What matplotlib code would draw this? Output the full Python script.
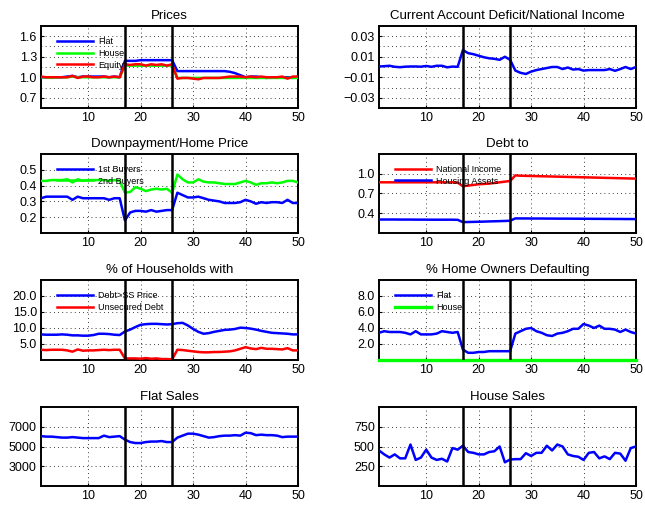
import numpy as np
import matplotlib
matplotlib.use("Agg")
import matplotlib.pyplot as plt
from matplotlib.ticker import FixedLocator

BLUE, GREEN, RED = "#0000ff", "#00ff00", "#ff0000"

plt.rcParams.update({
    "font.family": ["Liberation Sans", "DejaVu Sans"],
    "font.size": 9,
    "axes.linewidth": 1.4,
    "xtick.direction": "in", "ytick.direction": "in",
    "xtick.major.size": 2.5, "ytick.major.size": 2.5,
    "xtick.minor.size": 0, "ytick.minor.size": 0,
})

periods = np.arange(1, 51)
breaks = [17, 26]

prices_flat = [1.00, 1.00, 1.00, 1.00, 1.00, 1.01, 1.02, 1.00, 1.01, 1.01, 1.01, 1.01, 1.01, 1.00, 1.01, 1.00,
               1.24, 1.24, 1.24, 1.25, 1.25, 1.25, 1.25, 1.25, 1.25, 1.25,
               1.09, 1.09, 1.09, 1.09, 1.09, 1.09, 1.09, 1.09, 1.09, 1.09, 1.08, 1.06, 1.03, 1.00,
               1.01, 1.01, 1.00, 0.99, 1.00, 1.00, 1.00, 1.00, 0.99, 1.01]
prices_house = [1.00, 1.00, 0.99, 1.00, 1.00, 1.00, 1.01, 1.00, 1.00, 1.00, 1.00, 1.00, 1.00, 1.00, 1.00, 1.00,
                1.17, 1.17, 1.17, 1.17, 1.17, 1.17, 1.17, 1.17, 1.17, 1.17,
                0.99, 0.99, 0.99, 0.99, 0.99, 0.99, 0.99, 0.99, 0.99, 0.99, 0.99, 0.99, 0.99, 0.99,
                0.99, 0.99, 0.99, 0.99, 0.99, 0.99, 0.99, 0.99, 0.99, 0.99]
prices_equity = [1.01, 1.00, 1.00, 1.00, 1.00, 1.00, 1.02, 0.99, 1.01, 1.01, 1.00, 1.00, 1.01, 1.00, 1.01, 1.00,
                 1.19, 1.18, 1.19, 1.19, 1.17, 1.19, 1.18, 1.19, 1.17, 1.19,
                 0.98, 0.99, 0.99, 0.98, 0.97, 0.99, 0.99, 0.99, 0.99, 1.00, 1.01, 1.01, 1.01, 1.00,
                 1.01, 1.00, 1.01, 1.00, 1.00, 1.00, 1.01, 0.98, 1.01, 1.01]

ca_deficit = [0.0005, 0.0008, 0.0012, 0.0002, -0.0002, 0.0003, 0.0005, 0.0005, 0.0003, 0.0010, 0.0002, 0.0012,
              0.0012, -0.0003, 0.0004, 0.0002,
              0.0165, 0.0135, 0.0125, 0.0110, 0.0095, 0.0085, 0.0080, 0.0070, 0.0100, 0.0070,
              -0.0035, -0.0057, -0.0068, -0.0045, -0.0030, -0.0020, -0.0010, 0.0000, 0.0000, -0.0020, -0.0005,
              -0.0025, -0.0020, -0.0035, -0.0030, -0.0030, -0.0030, -0.0030, -0.0020, -0.0037, -0.0020, 0.0000,
              -0.0020, 0.0000]

dp_first = [0.32, 0.33, 0.33, 0.33, 0.33, 0.33, 0.31, 0.33, 0.32, 0.32, 0.32, 0.32, 0.32, 0.31, 0.32, 0.32,
            0.18, 0.23, 0.24, 0.24, 0.235, 0.245, 0.235, 0.24, 0.245, 0.245,
            0.355, 0.34, 0.325, 0.325, 0.33, 0.32, 0.31, 0.305, 0.30, 0.29, 0.29, 0.29, 0.295, 0.31,
            0.30, 0.285, 0.295, 0.29, 0.295, 0.295, 0.29, 0.31, 0.29, 0.29]
dp_second = [0.43, 0.43, 0.435, 0.435, 0.435, 0.44, 0.42, 0.44, 0.43, 0.435, 0.435, 0.435, 0.435, 0.43, 0.435, 0.43,
             0.355, 0.36, 0.39, 0.38, 0.365, 0.375, 0.38, 0.375, 0.38, 0.355,
             0.47, 0.44, 0.42, 0.42, 0.44, 0.425, 0.42, 0.42, 0.415, 0.41, 0.41, 0.41, 0.42, 0.43,
             0.42, 0.405, 0.415, 0.415, 0.42, 0.415, 0.42, 0.43, 0.43, 0.42]

debt_income = [0.87, 0.87, 0.87, 0.87, 0.87, 0.87, 0.87, 0.87, 0.87, 0.87, 0.87, 0.87, 0.87, 0.87, 0.87, 0.865,
               0.81, 0.82, 0.83, 0.84, 0.845, 0.85, 0.86, 0.87, 0.88, 0.89,
               0.975, 0.97, 0.968, 0.966, 0.964, 0.962, 0.96, 0.958, 0.956, 0.954, 0.952, 0.95, 0.948, 0.946,
               0.944, 0.942, 0.94, 0.938, 0.936, 0.934, 0.932, 0.93, 0.928, 0.926]
debt_housing = [0.305, 0.305, 0.305, 0.305, 0.304, 0.304, 0.304, 0.303, 0.303, 0.303, 0.302, 0.302, 0.302, 0.302,
                0.302, 0.30,
                0.265, 0.267, 0.269, 0.271, 0.273, 0.276, 0.278, 0.28, 0.283, 0.286,
                0.322, 0.321, 0.321, 0.32, 0.32, 0.32, 0.319, 0.319, 0.318, 0.318, 0.318, 0.317, 0.317, 0.316,
                0.316, 0.315, 0.315, 0.314, 0.314, 0.313, 0.313, 0.312, 0.312, 0.311]

hh_debt_ss = [8.0, 7.9, 7.9, 7.9, 8.0, 7.9, 7.7, 7.7, 7.6, 7.6, 7.8, 8.2, 8.2, 8.1, 7.9, 7.8,
              8.9, 9.5, 10.3, 11.0, 11.2, 11.3, 11.3, 11.2, 11.1, 11.2,
              11.5, 11.6, 10.8, 9.7, 8.8, 8.2, 8.4, 8.8, 9.1, 9.4, 9.5, 9.7, 10.1, 10.0,
              9.8, 9.5, 9.1, 8.8, 8.5, 8.4, 8.3, 8.2, 8.0, 8.0]
hh_unsecured = [3.2, 3.1, 3.2, 3.2, 3.2, 3.0, 2.6, 3.3, 2.9, 3.0, 3.0, 3.1, 3.2, 3.1, 3.2, 3.2,
                0.5, 0.5, 0.5, 0.4, 0.6, 0.4, 0.5, 0.3, 0.3, 0.2,
                3.2, 3.1, 2.9, 2.7, 2.5, 2.4, 2.4, 2.5, 2.5, 2.6, 2.7, 3.0, 3.5, 4.0,
                3.6, 3.4, 3.8, 3.5, 3.5, 3.4, 3.3, 3.7, 3.0, 3.0]

default_flat = [3.4, 3.6, 3.5, 3.5, 3.5, 3.4, 3.2, 3.6, 3.2, 3.2, 3.2, 3.3, 3.6, 3.5, 3.4, 3.5,
                1.3, 0.9, 0.9, 1.0, 1.0, 1.1, 1.1, 1.1, 1.1, 1.1,
                3.3, 3.6, 3.9, 4.0, 3.6, 3.4, 3.1, 3.0, 3.3, 3.4, 3.6, 3.9, 3.9, 4.5,
                4.3, 4.0, 4.3, 3.9, 3.9, 3.8, 3.5, 3.8, 3.5, 3.3]
default_house = [0.0] * 50

flat_sales = [6050, 6000, 6000, 5950, 5900, 5900, 5950, 5900, 5850, 5850, 5850, 5850, 6100, 5950, 6000, 6050,
              5700, 5450, 5350, 5350, 5450, 5500, 5500, 5550, 5450, 5450,
              5900, 6100, 6300, 6300, 6200, 6050, 5900, 5950, 6050, 6100, 6100, 6150, 6100, 6400,
              6350, 6150, 6200, 6150, 6150, 6100, 5950, 6000, 6000, 6000]
house_sales = [450, 400, 360, 400, 350, 350, 525, 330, 360, 460, 360, 330, 345, 310, 480, 460,
               510, 430, 420, 400, 400, 430, 440, 500, 300, 335,
               340, 340, 415, 380, 420, 420, 510, 450, 525, 500, 400, 380, 370, 330,
               420, 430, 350, 375, 340, 420, 410, 320, 480, 500]

fig = plt.figure(figsize=(6.45, 5.05), dpi=100)
W, H = 645.0, 505.0
cols = [41, 379]
rows = [(26, 108), (154, 233), (280, 360), (407, 486)]


def make_ax(r, c):
    top, bot = rows[r]
    return fig.add_axes([cols[c] / W, 1 - bot / H, 257 / W, (bot - top) / H])


def style(ax, title, ylim, labelled, minor=None):
    ax.set_xlim(1, 50)
    ax.set_ylim(*ylim)
    ax.set_xticks([10, 20, 30, 40, 50])
    ax.set_yticks(labelled)
    if minor is not None:
        ax.yaxis.set_minor_locator(FixedLocator(minor))
    ax.grid(True, which="both", color="black", linestyle=(0, (1, 4)), linewidth=0.6)
    for b in breaks:
        ax.axvline(b, color="black", linewidth=1.8, zorder=4)
    ax.set_title(title, fontsize=9.5, pad=5)
    ax.tick_params(labelsize=9, pad=3)


def leg(ax):
    ax.legend(loc="upper left", bbox_to_anchor=(0.04, 0.93), frameon=False, fontsize=6.5,
              handlelength=4.0, handletextpad=0.6, labelspacing=0.3, borderaxespad=0.2)


lw = 1.8

ax = make_ax(0, 0)
ax.plot(periods, prices_flat, color=BLUE, lw=lw, label="Flat", zorder=3)
ax.plot(periods, prices_house, color=GREEN, lw=lw, label="House", zorder=3)
ax.plot(periods, prices_equity, color=RED, lw=lw, label="Equity", zorder=3)
style(ax, "Prices", (0.55, 1.75), [0.7, 1.0, 1.3, 1.6], [0.85, 1.15, 1.45])
ax.set_yticklabels(["0.7", "1.0", "1.3", "1.6"])
leg(ax)

ax = make_ax(0, 1)
ax.plot(periods, ca_deficit, color=BLUE, lw=lw, zorder=3)
style(ax, "Current Account Deficit/National Income", (-0.04, 0.04),
      [-0.03, -0.01, 0.01, 0.03], [-0.02, 0.0, 0.02])
ax.set_yticklabels(["\u22120.03", "\u22120.01", "0.01", "0.03"])

ax = make_ax(1, 0)
ax.plot(periods, dp_first, color=BLUE, lw=lw, label="1st Buyers", zorder=3)
ax.plot(periods, dp_second, color=GREEN, lw=lw, label="2nd Buyers", zorder=3)
style(ax, "Downpayment/Home Price", (0.1, 0.6), [0.2, 0.3, 0.4, 0.5])
ax.set_yticklabels(["0.2", "0.3", "0.4", "0.5"])
leg(ax)

ax = make_ax(1, 1)
ax.plot(periods, debt_income, color=RED, lw=lw, label="National Income", zorder=3)
ax.plot(periods, debt_housing, color=BLUE, lw=lw, label="Housing Assets", zorder=3)
style(ax, "Debt to", (0.1, 1.3), [0.4, 0.7, 1.0])
ax.set_yticklabels(["0.4", "0.7", "1.0"])
leg(ax)

ax = make_ax(2, 0)
ax.plot(periods, hh_debt_ss, color=BLUE, lw=lw, label="Debt>SS Price", zorder=3)
ax.plot(periods, hh_unsecured, color=RED, lw=lw, label="Unsecured Debt", zorder=3)
style(ax, "% of Households with", (0, 25), [5, 10, 15, 20])
ax.set_yticklabels(["5.0", "10.0", "15.0", "20.0"])
leg(ax)

ax = make_ax(2, 1)
ax.plot(periods, default_flat, color=BLUE, lw=lw, label="Flat", zorder=3)
ax.plot(periods, default_house, color=GREEN, lw=lw + 0.6, label="House", zorder=3, clip_on=False)
style(ax, "% Home Owners Defaulting", (0, 10), [2, 4, 6, 8])
ax.set_yticklabels(["2.0", "4.0", "6.0", "8.0"])
leg(ax)

ax = make_ax(3, 0)
ax.plot(periods, flat_sales, color=BLUE, lw=lw, zorder=3)
style(ax, "Flat Sales", (1000, 9000), [3000, 5000, 7000])

ax = make_ax(3, 1)
ax.plot(periods, house_sales, color=BLUE, lw=lw, zorder=3)
style(ax, "House Sales", (0, 1000), [250, 500, 750])

fig.savefig("out.png", dpi=100, facecolor="white")
